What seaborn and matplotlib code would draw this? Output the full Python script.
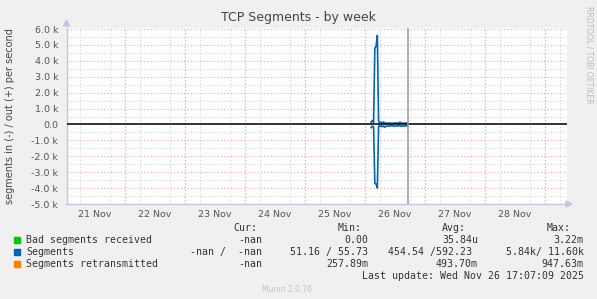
import matplotlib
matplotlib.use("Agg")
import matplotlib.pyplot as plt
import matplotlib.dates as mdates
from matplotlib.patches import Rectangle, Polygon
import numpy as np
import pandas as pd
import seaborn as sns

# ---------------- data ----------------
times = pd.date_range("2025-11-26 02:30", "2025-11-26 17:00", freq="30min")
seg_out = [150, 250, 120, 4800, 4900, 5600, 200, 80, 150, 60,
           160, 70, 90, 80, 70, 90, 80, 70, 80, 90,
           100, 80, 70, 150, 90, 80, 70, 80, 90, 80]
seg_in = [200, 100, 150, 3700, 3750, 4000, 100, 120, 60, 150,
          90, 170, 100, 110, 90, 100, 80, 100, 90, 110,
          90, 100, 80, 90, 110, 100, 90, 100, 80, 90]

day_labels = ["21 Nov", "22 Nov", "23 Nov", "24 Nov", "25 Nov", "26 Nov", "27 Nov", "28 Nov"]
day_noons = pd.date_range("2025-11-21 12:00", periods=8, freq="1D")
midnights = pd.date_range("2025-11-21 00:00", periods=9, freq="1D")
x_start = pd.Timestamp("2025-11-21 00:40")
x_end = pd.Timestamp("2025-11-29 08:40")
now = pd.Timestamp("2025-11-26 17:07")

y_ticks = [-5000, -4000, -3000, -2000, -1000, 0, 1000, 2000, 3000, 4000, 5000, 6000]
y_tick_labels = ["-5.0 k", "-4.0 k", "-3.0 k", "-2.0 k", "-1.0 k", "0.0",
                 "1.0 k", "2.0 k", "3.0 k", "4.0 k", "5.0 k", "6.0 k"]

legend_names = ["Bad segments received", "Segments", "Segments retransmitted"]
legend_colors = ["#00CC00", "#0066B3", "#FF8000"]
cur_vals = ["-nan", "-nan /  -nan", "-nan"]
min_vals = ["0.00", "51.16 / 55.73", "257.89m"]
avg_vals = ["35.84u", "454.54 /592.23", "493.70m"]
max_vals = ["3.22m", "5.84k/ 11.60k", "947.63m"]

title = "TCP Segments - by week"
ylabel = "segments in (-) / out (+) per second"
last_update = "Last update: Wed Nov 26 17:07:09 2025"

# ---------------- figure ----------------
W, H = 597, 299
fig = plt.figure(figsize=(W / 100, H / 100), dpi=100, facecolor="#F0F0F0")


def fx(x):
    return x / W


def fy(y):
    return 1 - y / H


ax_l, ax_r, ax_t, ax_b = 66.5, 566.5, 27.5, 204
ax = fig.add_axes([fx(ax_l), fy(ax_b), (ax_r - ax_l) / W, (ax_b - ax_t) / H])
ax.set_facecolor("white")

df = pd.DataFrame({
    "time": list(times) * 2,
    "value": list(seg_out) + [-v for v in seg_in],
    "dir": ["out"] * len(times) + ["in"] * len(times),
})
sns.lineplot(data=df, x="time", y="value", units="dir", estimator=None,
             color="#0066B3", lw=1.2, ax=ax, zorder=2)

ax.set_xlim(x_start, x_end)
ax.set_ylim(-5000, 6095)

# y ticks and grid
ax.set_yticks(y_ticks)
ax.set_yticklabels(y_tick_labels)
ax.set_yticks([v + 500 for v in y_ticks[:-1]], minor=True)
ax.grid(which="major", axis="y", color="#EBA8A8", ls=(0, (1, 2)), lw=0.8)
ax.grid(which="minor", axis="y", color="#D2D2D2", ls=(0, (1, 2)), lw=0.8)

# x ticks: labels at noon, minor grid every 6h, red at midnights
ax.set_xticks(day_noons)
ax.set_xticklabels(day_labels)
ax.xaxis.set_minor_locator(mdates.HourLocator(byhour=[0, 6, 12, 18]))
ax.grid(which="minor", axis="x", color="#D2D2D2", ls=(0, (1, 2)), lw=0.8)
ax.grid(which="major", axis="x", visible=False)
for m in midnights:
    ax.axvline(m, color="#EBA8A8", ls=(0, (1, 2)), lw=0.8, zorder=0.6)
ax.set_axisbelow(True)

ax.tick_params(axis="both", which="both", length=0, labelsize=6.8,
               labelcolor="#555555")
ax.tick_params(axis="y", pad=6)
ax.tick_params(axis="x", pad=4)
ax.set_xlabel("")
ax.set_ylabel("")

# zero line and "now" line
ax.axhline(0, color="black", lw=1.1, zorder=3)
ax.axvline(now, color="#999999", lw=1.1, zorder=3)

for s in ["top", "right"]:
    ax.spines[s].set_visible(False)
for s in ["left", "bottom"]:
    ax.spines[s].set_color("#C4C4E4")
    ax.spines[s].set_linewidth(1.0)

# axis arrows
arrow_col = "#C4C4E4"
fig.patches.append(Polygon([[fx(63.5), fy(26)], [fx(69.5), fy(26)], [fx(66.5), fy(20)]],
                           closed=True, color=arrow_col, transform=fig.transFigure))
fig.patches.append(Polygon([[fx(566), fy(201)], [fx(566), fy(207)], [fx(572), fy(204)]],
                           closed=True, color=arrow_col, transform=fig.transFigure))

# title and labels
fig.text(fx(298), fy(18), title, ha="center", va="center", fontsize=9, color="#444444")
fig.text(fx(10), fy(116), ylabel, ha="center", va="center", rotation=90,
         fontsize=7, color="#444444")
fig.text(fx(589), fy(55), "RRDTOOL / TOBI OETIKER", ha="center", va="center",
         rotation=270, fontsize=5.5, color="#BBBBBB")

# legend
mono = dict(family="DejaVu Sans Mono", fontsize=7.1, color="#333333", va="center")
fig.text(fx(233), fy(228), "Cur:", ha="left", **mono)
fig.text(fx(338), fy(228), "Min:", ha="left", **mono)
fig.text(fx(442), fy(228), "Avg:", ha="left", **mono)
fig.text(fx(547), fy(228), "Max:", ha="left", **mono)
rows_y = [240, 252, 264]
for i, yy in enumerate(rows_y):
    fig.patches.append(Rectangle((fx(14), fy(yy + 3)), 6 / W, 6 / H,
                                 color=legend_colors[i], transform=fig.transFigure))
    fig.text(fx(26), fy(yy), legend_names[i], ha="left", **mono)
    fig.text(fx(262.5), fy(yy), cur_vals[i], ha="right", **mono)
    fig.text(fx(368.5), fy(yy), min_vals[i], ha="right", **mono)
    fig.text(fx(478 if i != 1 else 472.5), fy(yy), avg_vals[i], ha="right", **mono)
    fig.text(fx(583.5), fy(yy), max_vals[i], ha="right", **mono)
fig.text(fx(583.5), fy(276), last_update, ha="right", **mono)
fig.text(fx(287), fy(289), "Munin 2.0.76", ha="center", va="center",
         fontsize=5.5, color="#C4C4C4")

fig.savefig("out.png", dpi=100, facecolor=fig.get_facecolor())
